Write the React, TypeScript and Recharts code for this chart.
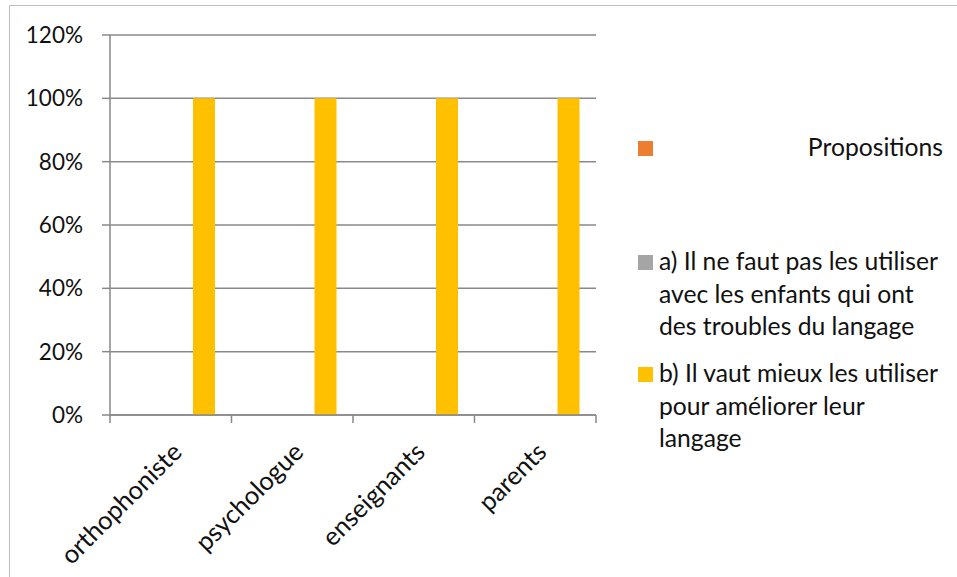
import React from 'react';
import { BarChart, Bar, XAxis, YAxis, CartesianGrid } from 'recharts';

const categories = ['orthophoniste', 'psychologue', 'enseignants', 'parents'];
const propositions = [0, 0, 0, 0];
const optionA = [0, 0, 0, 0];
const optionB = [100, 100, 100, 100];
const yTicks = [0, 20, 40, 60, 80, 100, 120];

const seriesNames = [
  'Propositions',
  'a) Il ne faut pas les utiliser avec les enfants qui ont des troubles du langage',
  'b) Il vaut mieux les utiliser pour améliorer leur langage',
];
const legendLines = [
  ['Propositions'],
  ['a) Il ne faut pas les utiliser', 'avec les enfants qui ont', 'des troubles du langage'],
  ['b) Il vaut mieux les utiliser', 'pour améliorer leur', 'langage'],
];
const seriesColors = ['#ED7D31', '#A5A5A5', '#FFC000'];

const data = categories.map((name, i) => ({
  name,
  propositions: propositions[i],
  optionA: optionA[i],
  optionB: optionB[i],
}));

const W = 957;
const H = 577;
const MARGIN = { top: 35, right: 361, bottom: 0, left: 0 };
const Y_AXIS_W = 110;
const X_AXIS_H = 162;
const AXIS_Y = H - MARGIN.bottom - X_AXIS_H;
const PLOT_W = W - MARGIN.left - MARGIN.right - Y_AXIS_W;
const BAND = PLOT_W / categories.length;
const FONT = 'Lato, "Open Sans", sans-serif';
const TEXT = '#111';
const AXIS = '#898989';

function CategoryTick(props: any) {
  const { x, payload, index } = props;
  const left = x - BAND / 2;
  const labelY = AXIS_Y + 26;
  return (
    <g>
      <line x1={left} x2={left} y1={AXIS_Y} y2={AXIS_Y + 8} stroke={AXIS} strokeWidth={1.5} />
      {index === categories.length - 1 && (
        <line x1={left + BAND} x2={left + BAND} y1={AXIS_Y} y2={AXIS_Y + 8} stroke={AXIS} strokeWidth={1.5} />
      )}
      <text
        x={x}
        y={labelY}
        dy="0.71em"
        textAnchor="end"
        transform={`rotate(-45 ${x} ${labelY})`}
        fontSize={25.5}
        fontFamily={FONT}
        fill={TEXT}
      >
        {payload.value}
      </text>
    </g>
  );
}

function LegendBox() {
  // legend drawn by hand, to the right of the plot
  const tops = [141, 255, 367];
  return (
    <svg width={W} height={H} style={{ position: 'absolute', left: 0, top: 0, pointerEvents: 'none' }}>
      {seriesNames.map((name, i) => (
        <g key={name}>
          <rect x={638} y={tops[i]} width={15} height={15} fill={seriesColors[i]} />
          {legendLines[i].map((line, j) => (
            <text
              key={j}
              x={i === 0 ? 943 : 659}
              y={tops[i] + 15 + j * 32.5}
              textAnchor={i === 0 ? 'end' : 'start'}
              fontSize={24.7}
              fontFamily={FONT}
              fill={TEXT}
            >
              {line}
            </text>
          ))}
        </g>
      ))}
    </svg>
  );
}

export default function App() {
  return (
    <div
      style={{
        position: 'absolute',
        left: 0,
        top: 0,
        width: W,
        height: H,
        overflow: 'hidden',
        background: '#fff',
        fontFamily: FONT,
      }}
    >
      <div
        style={{
          position: 'absolute',
          left: 9,
          top: 5,
          width: W,
          height: H,
          border: '1px solid #bfbfbf',
        }}
      />
      <div style={{ position: 'absolute', left: 0, top: 0 }}>
        <BarChart width={W} height={H} data={data} margin={MARGIN} barSize={22} barGap={11}>
          <CartesianGrid vertical={false} stroke={AXIS} strokeWidth={1.5} />
          <XAxis
            dataKey="name"
            height={X_AXIS_H}
            interval={0}
            axisLine={{ stroke: AXIS, strokeWidth: 1.5 }}
            tickLine={false}
            tick={<CategoryTick />}
          />
          <YAxis
            width={Y_AXIS_W}
            domain={[0, 120]}
            ticks={yTicks}
            interval={0}
            tickFormatter={(v: number) => `${v}%`}
            tickSize={8}
            tickMargin={19}
            axisLine={{ stroke: AXIS, strokeWidth: 1.5 }}
            tickLine={{ stroke: AXIS, strokeWidth: 1.5 }}
            tick={{ fontSize: 22.5, fill: TEXT, fontFamily: FONT }}
          />
          <Bar dataKey="propositions" name={seriesNames[0]} fill={seriesColors[0]} isAnimationActive={false} />
          <Bar dataKey="optionA" name={seriesNames[1]} fill={seriesColors[1]} isAnimationActive={false} />
          <Bar dataKey="optionB" name={seriesNames[2]} fill={seriesColors[2]} isAnimationActive={false} />
        </BarChart>
      </div>
      <LegendBox />
    </div>
  );
}
